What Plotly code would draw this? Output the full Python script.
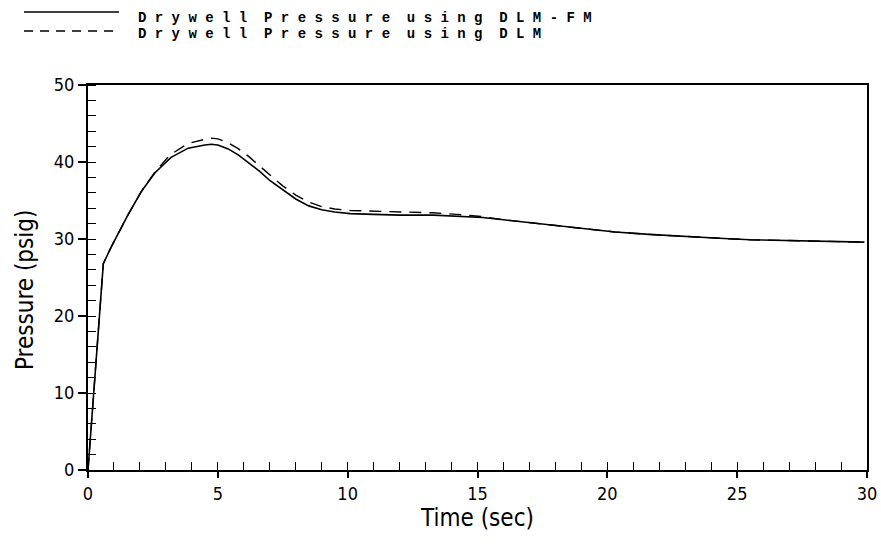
import plotly.graph_objects as go

# Time (sec) and pressure (psig)
t_fm = [0.0, 0.59, 0.9, 1.2, 1.55, 2.06, 2.58, 3.2, 3.86, 4.5, 4.75, 5.0, 5.4, 5.8, 6.2, 6.6, 7.0, 7.5, 8.0, 8.5, 9.0, 9.5, 10.1, 11.0, 12.0, 13.3, 14.2, 15.2, 16.0, 17.1, 17.8, 19.0, 20.3, 21.6, 23.0, 24.3, 25.5, 27.0, 28.5, 29.9]
p_fm = [0.0, 26.8, 29.0, 31.0, 33.2, 36.2, 38.6, 40.6, 41.8, 42.2, 42.3, 42.2, 41.7, 40.9, 39.9, 38.8, 37.6, 36.4, 35.2, 34.3, 33.8, 33.5, 33.3, 33.2, 33.1, 33.1, 33.0, 32.8, 32.5, 32.1, 31.9, 31.4, 30.9, 30.6, 30.3, 30.1, 29.9, 29.8, 29.7, 29.6]

t_dlm = [0.0, 0.59, 0.9, 1.2, 1.55, 2.06, 2.58, 3.15, 3.85, 4.5, 4.75, 5.0, 5.4, 5.8, 6.2, 6.6, 7.0, 7.5, 8.0, 8.5, 9.0, 9.5, 10.1, 11.0, 12.0, 13.3, 14.2, 15.2, 16.0, 17.1, 17.8, 19.0, 20.3, 21.6, 23.0, 24.3, 25.5, 27.0, 28.5, 29.9]
p_dlm = [0.0, 26.8, 29.0, 31.0, 33.2, 36.2, 38.7, 40.9, 42.4, 42.95, 43.1, 43.0, 42.5, 41.7, 40.7, 39.5, 38.3, 36.9, 35.7, 34.8, 34.2, 33.9, 33.7, 33.6, 33.5, 33.4, 33.2, 32.9, 32.5, 32.1, 31.9, 31.4, 30.9, 30.6, 30.3, 30.1, 29.9, 29.8, 29.7, 29.6]

x_ticks = [0, 5, 10, 15, 20, 25, 30]
y_ticks = [0, 10, 20, 30, 40, 50]
legend_labels = ["Drywell Pressure using DLM-FM", "Drywell Pressure using DLM"]


def spaced(s):
    return "  ".join(" ".join(w) for w in s.split(" "))


fig = go.Figure()
fig.add_trace(go.Scatter(x=t_fm, y=p_fm, mode="lines", name=legend_labels[0],
                         line=dict(color="black", width=1.6)))
fig.add_trace(go.Scatter(x=t_dlm, y=p_dlm, mode="lines", name=legend_labels[1],
                         line=dict(color="black", width=1.4, dash="12px,8px")))

W, H = 881, 544
L, R, T, B = 88, 14, 85, 74
pw, ph = W - L - R, H - T - B


def px(xp):
    return (xp - L) / pw


def py(yp):
    return (H - B - yp) / ph


# Legend drawn manually to match reference layout
legend_y_line = [12, 31]
legend_y_text = [18, 34]
for i, lab in enumerate(legend_labels):
    fig.add_shape(type="line", xref="paper", yref="paper",
                  x0=px(24), x1=px(119), y0=py(legend_y_line[i]), y1=py(legend_y_line[i]),
                  line=dict(color="black", width=1.4, dash="solid" if i == 0 else "9px,7px"))
    fig.add_annotation(xref="paper", yref="paper", x=px(136), y=py(legend_y_text[i]),
                       xanchor="left", yanchor="middle", showarrow=False,
                       text="<b>" + spaced(lab).replace(" ", "&nbsp;") + "</b>",
                       font=dict(family="Liberation Mono, DejaVu Sans Mono, monospace", size=14, color="black"))

axis_font = dict(family="Liberation Sans Narrow, DejaVu Sans Condensed, Arial Narrow, sans-serif", size=18, color="black")
title_font = dict(family="Liberation Sans Narrow, DejaVu Sans Condensed, Arial Narrow, sans-serif", size=24, color="black")

# Y axis title as annotation to match its position
fig.add_annotation(xref="paper", yref="paper", x=px(25), y=py(290), textangle=-90,
                   xanchor="center", yanchor="middle", showarrow=False,
                   text="Pressure (psig)", font=title_font)

fig.update_layout(
    width=W, height=H,
    margin=dict(l=L, r=R, t=T, b=B, autoexpand=False),
    plot_bgcolor="white", paper_bgcolor="white",
    showlegend=False,
)
fig.update_xaxes(range=[0, 30], tickvals=x_ticks, ticktext=[str(v) for v in x_ticks],
                 ticks="outside", ticklen=6, tickwidth=1.5, tickcolor="black",
                 minor=dict(dtick=1, ticks="inside", ticklen=8, tickwidth=1.2, tickcolor="black", showgrid=False),
                 showline=True, linecolor="black", linewidth=2, mirror=True,
                 showgrid=False, zeroline=False, tickfont=axis_font, automargin=False,
                 title=dict(text="Time (sec)", font=title_font, standoff=2))
fig.update_yaxes(range=[0, 50], tickvals=y_ticks, ticktext=[str(v) for v in y_ticks],
                 ticks="outside", ticklen=8, tickwidth=1.5, tickcolor="black",
                 minor=dict(dtick=2, ticks="inside", ticklen=8, tickwidth=1.2, tickcolor="black", showgrid=False),
                 showline=True, linecolor="black", linewidth=2, mirror=True,
                 showgrid=False, zeroline=False, tickfont=axis_font, automargin=False)

fig.write_html("out.html")
